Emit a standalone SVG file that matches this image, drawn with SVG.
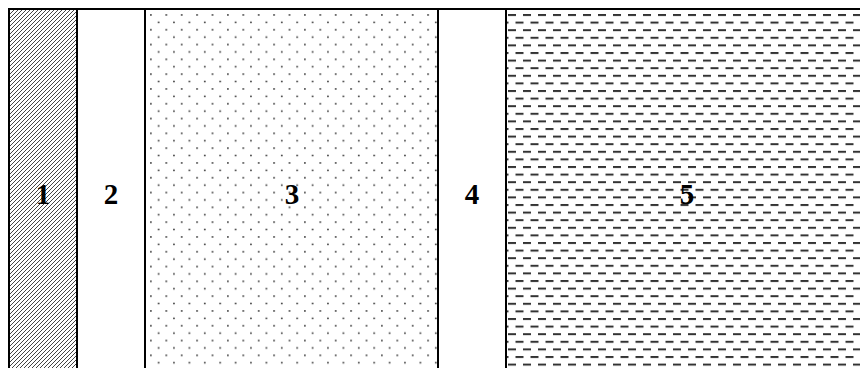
<svg xmlns="http://www.w3.org/2000/svg" width="860" height="368" viewBox="0 0 860 368">
<style>
.lbl{font-family:"Liberation Serif","Times New Roman",serif;font-weight:bold;font-size:29px;fill:#000;text-anchor:middle}
.edge{stroke:#000;stroke-width:2;fill:none}
</style>
<defs>
<pattern id="hatch" patternUnits="userSpaceOnUse" width="4" height="4">
<path d="M-1,1 L1,-1 M0,4 L4,0 M3,5 L5,3" stroke="#444" stroke-width="1"/>
</pattern>
<pattern id="dots" patternUnits="userSpaceOnUse" x="150" y="14" width="15.4" height="14.8">
<circle cx="0.9" cy="0.9" r="0.9" fill="#333"/>
<circle cx="8.6" cy="8.3" r="0.9" fill="#333"/>
</pattern>
<pattern id="dashes" patternUnits="userSpaceOnUse" x="508" y="14" width="15" height="15.2">
<rect x="0" y="0" width="8" height="2" fill="#333"/>
<rect x="7.5" y="7.6" width="8" height="2" fill="#333"/>
<rect x="-7.5" y="7.6" width="8" height="2" fill="#333"/>
</pattern>
</defs>
<g id="region1">
<rect x="9" y="9" width="68" height="370" fill="url(#hatch)"/>
<text class="lbl" x="43" y="204">1</text>
</g>
<g id="region2">
<rect x="77" y="9" width="68" height="370" fill="#fff"/>
<text class="lbl" x="111" y="204">2</text>
</g>
<g id="region3">
<rect x="145" y="9" width="293" height="370" fill="url(#dots)"/>
<text class="lbl" x="292" y="204">3</text>
</g>
<g id="region4">
<rect x="438" y="9" width="68" height="370" fill="#fff"/>
<text class="lbl" x="472" y="204">4</text>
</g>
<g id="region5">
<rect x="506" y="9" width="370" height="370" fill="url(#dashes)"/>
<text class="lbl" x="687" y="204">5</text>
</g>
<g id="connectors">
<path class="edge" d="M9,380 V9 H870"/>
<path class="edge" d="M77,9 V380 M145,9 V380 M438,9 V380 M506,9 V380"/>
</g>
</svg>
